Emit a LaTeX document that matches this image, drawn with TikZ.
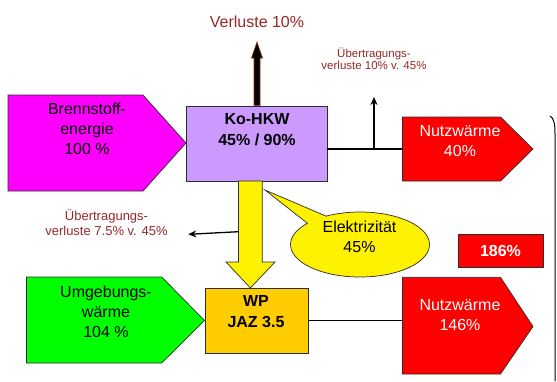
\documentclass[tikz,border=0pt]{standalone}
\usepackage{fontspec}
\setmainfont{Liberation Sans}
\usetikzlibrary{shapes.callouts,calc,arrows.meta}
\definecolor{mag}{RGB}{255,0,255}
\definecolor{lav}{RGB}{204,153,255}
\definecolor{wpor}{RGB}{255,204,0}
\definecolor{dred}{RGB}{150,40,40}
\definecolor{brownline}{RGB}{153,51,0}
\definecolor{edge}{RGB}{45,45,45}
\begin{document}
\begin{tikzpicture}[x=1pt,y=-1pt,
  shapeline/.style={draw=edge, line width=0.7pt},
  big/.style={font=\fontsize{16}{20}\selectfont, align=center, inner sep=0pt},
  bigb/.style={font=\fontsize{16}{21}\selectfont\bfseries, align=center, inner sep=0pt},
  small/.style={font=\fontsize{11.5}{12.5}\selectfont, align=center, inner sep=0pt, text=dred},
  conn/.style={line width=1.4pt},
  boxnode/.style={shapeline, rectangle, inner sep=0pt}]
\useasboundingbox (0,0) rectangle (557,381);

% Brennstoffenergie
\filldraw[fill=mag, shapeline] (8,95) -- (143,95) -- (186,143) -- (143,191) -- (8,191) -- cycle;
\node[big] (brenn) at (87,129) {Brennstoff-\\energie\\100 \%};

% Ko-HKW
\node[boxnode, fill=lav, minimum width=141pt, minimum height=75pt] (ko) at (256.5,143.5) {};
\node[bigb] (kotxt) at (257,130) {Ko-HKW\\45\% / 90\%};

% Verluste
\node[font=\fontsize{16}{20}\selectfont, text=dred, inner sep=0pt] (verl) at (257,22) {Verluste 10\%};
\coordinate (vtip) at (257,42);
\filldraw[fill=black, draw=brownline, line width=0.6pt]
  ($(ko.north)+(-2.5,0)$) -- ($(vtip)+(-3,16)$) -- ($(vtip)+(-5.5,16)$) -- (vtip)
  -- ($(vtip)+(5.5,16)$) -- ($(vtip)+(3,16)$) -- ($(ko.north)+(3.5,0)$) -- cycle;

% Nutzwaerme 40%
\filldraw[fill=red, shapeline] (402.5,117) -- (500.5,117) -- (533,149) -- (500.5,181) -- (402.5,181) -- cycle;
\coordinate (n1w) at (402.5,149);
\node[big, text=white] (n1) at (460,141) {Nutzwärme\\40\%};
\draw[conn] (ko.east |- n1w) -- (n1w);
\coordinate (up1) at (374,97);
\draw[conn, -{Stealth[length=8pt,width=7pt]}] (up1 |- n1w) -- (up1);
\node[small] (ub1) at (374,58.5) {Übertragungs-\\verluste 10\% v. 45\%};

% brace
\draw[line width=1pt] (550,116) .. controls (554,118) and (555,124) .. (555,134) -- (555,381);

% Elektrizitaet arrow
\filldraw[fill=yellow, shapeline] (238.5,181) -- (238.5,262) -- (226,262) -- (250.4,288) -- (275,262) -- (262.3,262) -- (262.3,181) -- cycle;

% WP
\node[boxnode, fill=wpor, minimum width=103pt, minimum height=65pt] (wp) at (256.5,320.5) {};
\node[bigb] (wptxt) at (256,312) {WP\\JAZ 3.5};

% callout
\node[ellipse callout, fill=yellow, shapeline, minimum width=139pt, minimum height=65pt, inner sep=0pt,
  callout absolute pointer={(265,190)}, callout pointer arc=20] (elek) at (360,244.5) {};
\node[big] (elektxt) at (359.5,237) {Elektrizität\\45\%};

% 7.5% losses
\node[font=\fontsize{13}{15}\selectfont, text=dred, align=center, inner sep=0pt] (ub2) at (106.5,222.5) {Übertragungs-\\verluste 7.5\% v. 45\%};
\coordinate (l1) at (238.5,231.7);
\coordinate (l2) at (188.3,234.3);
\draw[line width=1.3pt, -{Stealth[length=8pt,width=7pt]}] (l1) -- (l2);

% 186%
\node[boxnode, fill=red, minimum width=85pt, minimum height=33pt, font=\fontsize{16}{20}\selectfont\bfseries, text=white] (tot) at (500.5,250.5) {186\%};

% Umgebungswaerme
\filldraw[fill=green, shapeline] (26.5,277) -- (161.7,277) -- (204.5,320.5) -- (161.7,363) -- (26.5,363) -- cycle;
\node[big] (umg) at (106,312) {Umgebungs-\\wärme\\104 \%};

% Nutzwaerme 146%
\filldraw[fill=red, shapeline] (402.5,277.3) -- (500.5,277.3) -- (533,326.5) -- (500.5,374) -- (402.5,374) -- cycle;
\coordinate (n2w) at (402.5,321);
\node[big, text=white] (n2) at (460,315) {Nutzwärme\\146\%};
\draw[conn] (wp.east) -- (wp.east -| n2w);
\end{tikzpicture}
\end{document}
